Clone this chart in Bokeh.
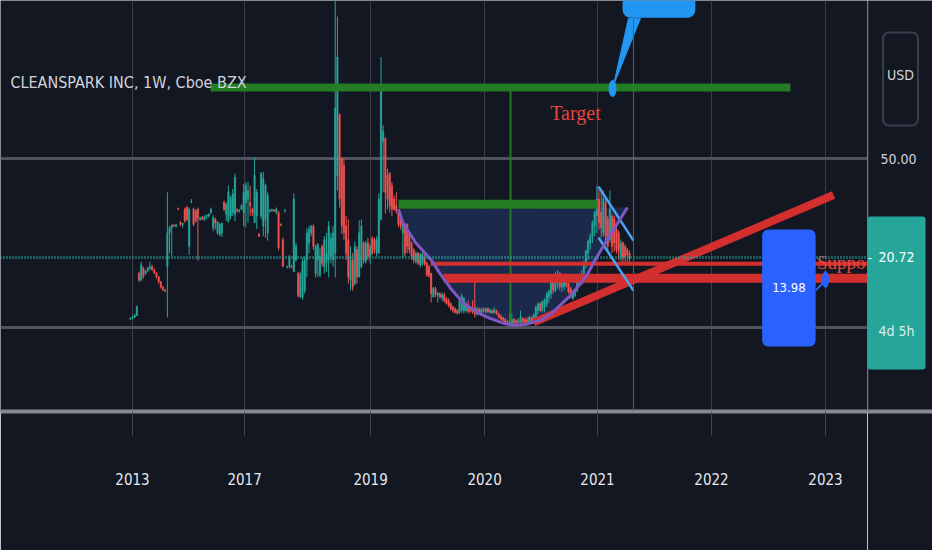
import numpy as np
from bokeh.plotting import figure
from bokeh.layouts import row
from bokeh.models import Range1d, FixedTicker, Span, Label, ColumnDataSource
from bokeh.core.properties import value
from bokeh.embed import file_html
from bokeh.resources import INLINE

BG = "#131722"
UP = "#26a69a"
DOWN = "#ef5350"
SANS = "'DejaVu Sans Condensed', Roboto"

# ---------------- weekly candles (bar index starts at -1) ----------------
first_bar = -1
open_ = [
    2.6, 2.8, 3.0, 3.6, 16.0, 14.0, 17.5, 16.0, 17.0, 17.5,
    18.0, 17.0, 16.0, 15.0, 13.5, 12.0, 11.0, 18.0, 28.0, 29.5,
    30.2, 30.0, 35.2, 31.0, 30.5, 35.0, 35.5, 24.0, 37.0, 35.0,
    34.5, 35.0, 32.0, 32.5, 32.0, 32.8, 33.0, 34.0, 29.5, 32.0,
    28.0, 27.5, 28.0, 37.0, 33.5, 31.5, 33.0, 34.0, 33.5, 34.8,
    34.5, 35.0, 34.0, 37.0, 38.0, 37.0, 35.0, 31.0, 33.0, 27.6,
    33.0, 30.0, 32.0, 28.0, 34.5, 34.6, 34.8, 34.0, 34.0, 30.5,
    26.0, 34.5, 17.8, 18.0, 18.0, 16.5, 20.0, 16.0, 9.0, 9.0,
    11.0, 20.0, 25.0, 28.0, 30.0, 16.0, 20.0, 15.5, 24.0, 18.0,
    19.0, 20.0, 21.0, 20.0, 22.0, 45.0, 63.0, 50.0, 48.0, 30.0,
    26.0, 14.0, 20.0, 13.0, 23.0, 15.0, 18.0, 25.0, 19.5, 25.0,
    21.0, 26.5, 26.0, 22.0, 22.0, 32.0, 55.0, 56.0, 45.0, 45.6,
    42.0, 38.0, 36.0, 34.0, 33.0, 28.0, 30.0, 30.5, 28.0, 25.0,
    23.0, 19.5, 22.0, 18.5, 19.0, 21.0, 19.0, 18.0, 16.0, 9.0,
    11.5, 9.5, 10.0, 8.8, 9.6, 8.6, 8.0, 7.0, 6.0, 5.5,
    5.0, 4.4, 5.0, 5.0, 5.0, 6.8, 5.5, 5.0, 6.0, 4.0,
    5.5, 4.5, 5.5, 4.6, 5.6, 4.5, 5.0, 4.4, 5.0, 4.0,
    3.3, 2.8, 2.4, 1.8, 1.5, 1.2, 2.4, 2.0, 1.3, 1.5,
    2.7, 2.4, 2.2, 1.5, 3.0, 2.0, 3.0, 5.0, 7.0, 5.0,
    6.0, 7.0, 9.0, 10.0, 13.5, 11.0, 13.0, 16.0, 12.0, 12.0,
    14.5, 13.0, 11.5, 8.5, 9.5, 11.0, 13.0, 15.5, 13.5, 19.0,
    22.0, 25.0, 27.0, 30.0, 33.0, 38.0, 34.0, 28.0, 37.0, 32.0,
    26.0, 33.0, 32.0, 29.0, 28.0, 21.0, 25.0, 24.0, 23.0, 22.0,
]
high = [
    3.0, 3.5, 4.1, 6.5, 16.5, 19.4, 18.0, 17.0, 18.0, 19.5,
    18.5, 17.6, 16.4, 15.2, 13.8, 12.2, 11.5, 40.0, 30.0, 30.5,
    30.6, 30.5, 35.5, 31.5, 31.0, 35.5, 36.0, 35.5, 38.0, 35.5,
    35.0, 35.5, 32.8, 33.0, 33.2, 33.5, 33.8, 35.5, 33.2, 32.5,
    31.5, 31.0, 31.0, 37.5, 37.0, 42.0, 39.0, 41.0, 45.5, 35.3,
    35.0, 36.5, 42.5, 43.0, 43.0, 42.0, 35.5, 50.3, 41.0, 28.0,
    46.0, 46.0, 42.6, 40.0, 35.0, 35.2, 35.0, 35.5, 34.5, 30.8,
    26.6, 35.0, 18.3, 21.5, 18.5, 39.6, 25.0, 16.5, 16.5, 20.7,
    21.0, 29.5, 30.2, 30.3, 30.5, 24.5, 25.0, 23.5, 24.5, 27.0,
    28.0, 31.5, 28.0, 30.0, 110.0, 92.0, 63.3, 50.3, 50.0, 33.0,
    32.0, 24.0, 22.0, 25.5, 24.0, 31.7, 32.0, 25.5, 25.7, 26.5,
    24.8, 27.0, 26.6, 27.0, 39.6, 80.0, 59.8, 56.2, 47.0, 46.0,
    43.0, 39.0, 40.0, 35.0, 34.0, 31.2, 31.0, 30.8, 28.5, 25.5,
    23.5, 22.5, 22.3, 22.2, 22.2, 21.5, 19.5, 18.5, 16.2, 12.0,
    12.0, 10.5, 10.4, 10.4, 10.3, 9.0, 8.6, 7.5, 6.5, 6.0,
    5.5, 8.6, 10.1, 9.0, 7.5, 8.0, 6.0, 8.0, 13.9, 6.2,
    5.9, 5.9, 5.9, 5.9, 5.9, 5.6, 5.3, 5.9, 5.3, 4.4,
    3.8, 3.2, 2.8, 2.1, 4.1, 4.1, 2.7, 2.4, 2.7, 5.0,
    3.0, 2.9, 3.0, 3.5, 3.3, 4.1, 6.5, 7.4, 7.5, 8.0,
    8.6, 10.4, 11.2, 13.9, 14.5, 16.5, 17.0, 16.5, 15.0, 15.4,
    15.0, 13.3, 12.0, 10.9, 11.2, 14.0, 16.0, 16.9, 19.8, 23.0,
    26.0, 27.8, 31.7, 34.6, 42.0, 41.0, 40.5, 40.5, 38.0, 33.0,
    40.5, 33.5, 33.0, 30.0, 28.7, 26.0, 25.5, 24.5, 23.5, 22.8,
]
low = [
    2.2, 2.4, 2.8, 3.4, 13.5, 13.8, 14.5, 15.6, 16.5, 17.0,
    16.8, 15.8, 14.5, 13.0, 11.5, 10.8, 10.4, 3.0, 22.0, 21.0,
    29.8, 29.5, 34.8, 30.0, 29.5, 31.0, 31.5, 21.5, 36.8, 30.0,
    31.0, 19.8, 31.5, 31.8, 31.5, 32.0, 32.5, 33.5, 28.5, 29.0,
    27.5, 27.0, 26.8, 34.5, 31.5, 31.0, 32.0, 33.0, 31.5, 34.0,
    34.0, 34.8, 30.0, 29.6, 31.0, 33.0, 33.0, 31.0, 29.2, 26.8,
    32.0, 27.0, 26.5, 25.7, 34.0, 34.2, 34.2, 33.5, 22.8, 30.0,
    17.8, 34.0, 17.5, 17.5, 17.5, 16.5, 19.5, 8.9, 8.9, 8.2,
    10.0, 15.0, 22.0, 27.0, 23.0, 14.8, 15.0, 14.8, 18.0, 16.0,
    16.5, 14.8, 19.0, 18.0, 14.8, 40.5, 35.5, 27.6, 26.0, 20.0,
    13.0, 11.0, 10.9, 12.5, 13.0, 14.7, 17.5, 19.0, 19.0, 20.0,
    18.9, 21.5, 21.9, 21.0, 21.9, 31.7, 40.0, 33.7, 35.0, 34.0,
    33.0, 34.6, 33.7, 29.6, 29.0, 20.7, 21.0, 22.0, 21.9, 20.0,
    19.0, 18.9, 18.5, 17.8, 18.3, 18.3, 15.0, 14.8, 7.4, 8.9,
    9.0, 7.4, 8.6, 7.8, 7.4, 6.8, 6.0, 5.0, 4.4, 4.1,
    3.8, 4.1, 4.4, 4.1, 4.4, 4.1, 4.4, 4.1, 3.0, 3.5,
    4.1, 4.1, 4.4, 4.1, 4.4, 4.1, 4.1, 4.1, 3.8, 2.7,
    2.1, 1.8, 1.2, 1.2, 0.9, 0.6, 1.0, 0.9, 0.9, 1.2,
    1.2, 1.2, 1.3, 1.2, 1.5, 1.5, 2.4, 3.8, 4.5, 4.4,
    4.5, 6.0, 7.4, 8.5, 10.0, 10.5, 11.5, 11.0, 10.5, 11.0,
    11.8, 10.0, 8.6, 8.2, 9.0, 10.5, 12.5, 12.5, 13.0, 17.5,
    20.0, 23.0, 25.0, 27.0, 28.0, 29.0, 26.6, 27.0, 25.0, 22.0,
    25.0, 22.0, 22.5, 21.9, 20.0, 19.5, 19.0, 19.0, 19.5, 19.2,
]
close = [
    2.8, 3.0, 3.6, 6.2, 14.0, 18.5, 15.2, 16.8, 17.5, 18.0,
    17.2, 16.2, 15.0, 13.5, 12.0, 11.2, 10.8, 28.0, 29.5, 30.2,
    30.0, 30.4, 35.0, 30.5, 30.8, 31.5, 32.0, 35.0, 37.2, 30.5,
    31.5, 32.5, 32.4, 32.0, 32.8, 33.2, 33.5, 35.0, 32.5, 31.0,
    31.2, 30.5, 30.8, 35.0, 36.5, 40.0, 38.5, 39.5, 44.5, 34.5,
    34.8, 36.0, 40.0, 42.0, 40.5, 36.0, 34.0, 45.0, 40.0, 27.0,
    45.5, 44.0, 42.0, 39.0, 34.8, 34.8, 34.5, 35.0, 23.5, 30.2,
    18.2, 34.6, 18.0, 21.0, 17.8, 38.0, 24.0, 9.5, 15.8, 19.5,
    20.0, 28.0, 29.0, 30.0, 24.0, 24.0, 24.5, 21.0, 19.0, 26.0,
    22.0, 30.0, 26.5, 28.0, 65.0, 80.0, 38.0, 30.0, 28.0, 22.0,
    15.0, 20.0, 12.0, 24.0, 15.0, 28.0, 30.0, 20.0, 25.0, 21.0,
    24.0, 22.0, 23.0, 26.0, 38.0, 70.0, 58.0, 40.0, 38.0, 36.0,
    35.0, 35.0, 34.5, 30.5, 30.0, 30.5, 22.0, 24.0, 23.0, 21.0,
    20.0, 22.0, 19.0, 21.5, 21.8, 18.8, 15.6, 15.2, 10.0, 11.5,
    9.8, 10.2, 9.0, 9.8, 8.0, 7.2, 6.5, 5.6, 5.0, 4.5,
    4.2, 8.0, 9.2, 8.6, 6.8, 4.8, 4.7, 4.6, 4.0, 5.5,
    4.5, 5.3, 4.8, 5.6, 4.6, 5.2, 4.4, 5.3, 4.0, 3.1,
    2.5, 2.1, 1.6, 1.5, 2.1, 2.5, 1.4, 1.3, 2.2, 3.2,
    1.6, 1.5, 1.7, 3.0, 2.0, 3.8, 6.0, 7.0, 5.0, 7.6,
    8.2, 10.0, 10.8, 13.3, 11.0, 15.5, 15.8, 12.0, 14.0, 14.5,
    12.5, 10.5, 9.2, 10.5, 10.8, 13.5, 15.0, 13.2, 19.2, 22.5,
    25.5, 27.0, 31.0, 34.0, 38.0, 31.0, 29.5, 38.0, 27.0, 24.0,
    35.0, 24.0, 25.0, 23.0, 22.5, 25.0, 20.5, 21.0, 21.5, 20.72,
]

# ---------------- axes ----------------
year_labels = ["2013", "2017", "2019", "2020", "2021", "2022", "2023"]
year_bars = [0.0, 51.4, 109.2, 161.5, 213.3, 265.6, 317.9]
grid_prices = [0, 50]
price_tick = 50
price_tick_text = "50.00"
last_price = 20.72
last_price_text = "20.72"
countdown_text = "4d 5h"
currency_text = "USD"
cursor_bar = 229.8

# ---------------- drawings (bar index, price) ----------------
target_x = [35.8, 301.8]
target_y = [71.0, 71.0]
depth_x = [173.4, 173.4]
depth_y = [70.1, 1.5]
rim_x = [122.0, 213.3]
rim_y = [36.5, 36.5]
cup_x = [122, 124, 130, 137, 141, 146, 152, 158, 164, 170, 175, 181, 187, 192, 196,
         201, 205.5, 209, 211.5, 215, 219, 223, 227]
cup_y = [35.0, 31.0, 25.0, 20.0, 16.0, 11.5, 7.1, 4.5, 2.7, 1.3, 0.6, 1.0, 2.1, 4.0, 6.5,
         9.5, 13.0, 16.0, 19.2, 23.0, 27.2, 31.3, 35.5]
support1_x = [136.7, 345.0]
support1_y = [18.9, 18.9]
support2_x = [142.7, 345.0]
support2_y = [14.6, 14.6]
trend_x = [184.0, 321.6]
trend_y = [1.5, 39.2]
chan_up_x = [213.8, 229.8]
chan_up_y = [41.7, 25.7]
chan_lo_x = [213.8, 229.8]
chan_lo_y = [26.6, 10.9]
callout1_tail_x = [220.6, 227.5, 233.0]
callout1_tail_y = [71.6, 91.4, 91.4]
callout1_dot = (220.2, 70.7)
callout1_box = (241.5, 95.9)
callout2_box = (301.1, 11.7)
callout2_text = "13.98"
callout2_tail_x = [313.3, 317.9]
callout2_tail_y = [10.9, 13.9]
callout2_dot = (317.9, 14.2)
target_text = ("Target", 203.2, 63.6)
support_text = ("Suppo", 314.0, 19.2)
title_text = "CLEANSPARK INC, 1W, Cboe BZX"

# ---------------- main chart pane ----------------
yr = Range1d(-24.85, 96.75)
p = figure(width=867, height=550, output_backend="svg", toolbar_location=None,
           x_range=Range1d(-60.55, 337.16), y_range=yr, y_axis_location=None,
           min_border_left=0, min_border_top=0, min_border_right=0, min_border_bottom=139,
           background_fill_color=BG, border_fill_color=BG, outline_line_color=None)

xa = p.xaxis[0]
xa.ticker = FixedTicker(ticks=year_bars)
xa.major_label_overrides = {b: t for b, t in zip(year_bars, year_labels)}
xa.axis_line_color = "#868993"
xa.axis_line_width = 4
xa.major_tick_out = 24
xa.major_tick_in = 0
xa.major_tick_line_color = "#434651"
xa.minor_tick_line_color = None
xa.major_label_standoff = 37
xa.major_label_text_font = SANS
xa.major_label_text_font_size = "15px"
xa.major_label_text_color = "#e6e8ee"

p.xgrid.grid_line_color = "#3a3d48"
p.xgrid.grid_line_width = 1
p.ygrid.ticker = FixedTicker(ticks=grid_prices)
p.ygrid.grid_line_color = "#50535e"
p.ygrid.grid_line_width = 3

# cup fill
p.patch(cup_x, cup_y, fill_color="#1b2a4b", line_color=None)

# candles
x = np.arange(len(close)) + first_bar
o = np.array(open_)
c = np.array(close)
colors = [UP if cc >= oo else DOWN for oo, cc in zip(open_, close)]
src = ColumnDataSource(dict(x=x, h=high, l=low, top=np.maximum(o, c), bottom=np.minimum(o, c), color=colors))
p.segment("x", "h", "x", "l", source=src, line_color="color", line_width=1)
p.vbar(x="x", top="top", bottom="bottom", width=0.6, source=src,
       fill_color="color", line_color="color", line_width=0.6)

# drawings
GREEN = "#237b23"
RED = "#d32f2f"
p.line(target_x, target_y, line_color=GREEN, line_width=8)
p.line(depth_x, depth_y, line_color=GREEN, line_width=2)
p.line(rim_x, rim_y, line_color=GREEN, line_width=9)
p.line(support1_x, support1_y, line_color=RED, line_width=4)
p.line(support2_x, support2_y, line_color=RED, line_width=9)
p.line(trend_x, trend_y, line_color=RED, line_width=8)
p.line(chan_up_x, chan_up_y, line_color="#4aa3f5", line_width=2.5)
p.line(chan_lo_x, chan_lo_y, line_color="#4aa3f5", line_width=2.5)
p.line(cup_x, cup_y, line_color="#7e57c2", line_width=3)

# callouts
p.patch(callout1_tail_x, callout1_tail_y, fill_color="#2196f3", line_color="#2196f3")
p.ellipse(x=[callout1_dot[0]], y=[callout1_dot[1]], width=7, height=16,
          width_units="screen", height_units="screen", fill_color="#2196f3", line_color="#2196f3")
p.line(callout2_tail_x, callout2_tail_y, line_color="#2962ff", line_width=2)
p.ellipse(x=[callout2_dot[0]], y=[callout2_dot[1]], width=6, height=16,
          width_units="screen", height_units="screen", fill_color="#2962ff", line_color="#2962ff")

p.text(x=[target_text[1]], y=[target_text[2]], text=[target_text[0]],
       text_font=value("Liberation Serif"), text_font_size="20px", text_color="#e8453c",
       text_align="center", text_baseline="middle")
p.text(x=[support_text[1]], y=[support_text[2]], text=[support_text[0]],
       text_font=value("Liberation Serif"), text_font_size="19px", text_color="#e8453c",
       text_align="left", text_baseline="middle")

p.add_layout(Span(location=last_price, dimension="width", line_color=UP,
                  line_width=3, line_dash="1 2"))
p.add_layout(Span(location=cursor_bar, dimension="height", line_color="#5d606b", line_width=1))

p.add_layout(Label(x=callout1_box[0], y=callout1_box[1], text="\u00a0", text_font_size="10px",
                   text_align="center", text_baseline="middle",
                   background_fill_color="#2196f3", border_radius=8,
                   padding=dict(left=35, right=35, top=9, bottom=9)))
p.add_layout(Label(x=callout2_box[0], y=callout2_box[1], text=callout2_text,
                   text_font=SANS, text_font_size="13px", text_color="white",
                   text_align="center", text_baseline="middle",
                   background_fill_color="#2962ff", border_radius=6,
                   padding=dict(left=10, right=10, top=54, bottom=54)))

p.add_layout(Label(x=-56.0, y=72.5, text=title_text, text_font=SANS, text_font_size="16px",
                   text_color="#d1d4dc", text_align="left", text_baseline="middle"))

# ---------------- price scale pane (x in pixels from its left edge) ----------------
ps = figure(width=65, height=550, output_backend="svg", toolbar_location=None,
            x_range=Range1d(0, 65), y_range=yr, y_axis_location=None,
            min_border_left=0, min_border_top=0, min_border_right=0, min_border_bottom=139,
            background_fill_color=BG, border_fill_color=BG, outline_line_color=None)
ps.xgrid.visible = False
ps.ygrid.visible = False
sx = ps.xaxis[0]
sx.ticker = FixedTicker(ticks=[])
sx.axis_line_color = "#868993"
sx.axis_line_width = 4
sx.major_tick_line_color = None
sx.minor_tick_line_color = None
sx.major_label_text_font_size = "0px"

ps.add_layout(Span(location=0.5, dimension="height", line_color="#434651", line_width=1))
ps.add_layout(Label(x=13, y=price_tick, text=price_tick_text, text_font=SANS,
                    text_font_size="14px", text_color="#d1d4dc", text_align="left",
                    text_baseline="middle"))
# box 213..372 px tall, text at 257 px
ps.add_layout(Label(x=29, y=10.21, text=last_price_text, text_font=SANS,
                    text_font_size="14px", text_color="white", text_align="center",
                    text_baseline="middle", background_fill_color=UP, border_radius=3,
                    padding=dict(left=11, right=11, top=36, bottom=107)))
ps.add_layout(Label(x=29, y=-1.18, text=countdown_text, text_font=SANS,
                    text_font_size="14px", text_color="#d8eeeb", text_align="center",
                    text_baseline="middle"))
ps.add_layout(Label(x=2.5, y=last_price, text="-", text_font=SANS,
                    text_font_size="12px", text_color="white", text_align="center",
                    text_baseline="middle"))
# box 32..125 px tall, text at 75 px
ps.add_layout(Label(x=33, y=73.53, text=currency_text, text_font=SANS, text_font_size="14px",
                    text_color="#d1d4dc", text_align="center", text_baseline="middle",
                    border_line_color="#3a3e4a", border_line_width=2, border_radius=6,
                    padding=dict(left=4, right=4, top=35, bottom=42)))

layout = row(p, ps, spacing=0)
html = file_html(layout, INLINE).replace("<body>", '<body style="background-color:#131722;">', 1)
open("out.html", "w").write(html)
